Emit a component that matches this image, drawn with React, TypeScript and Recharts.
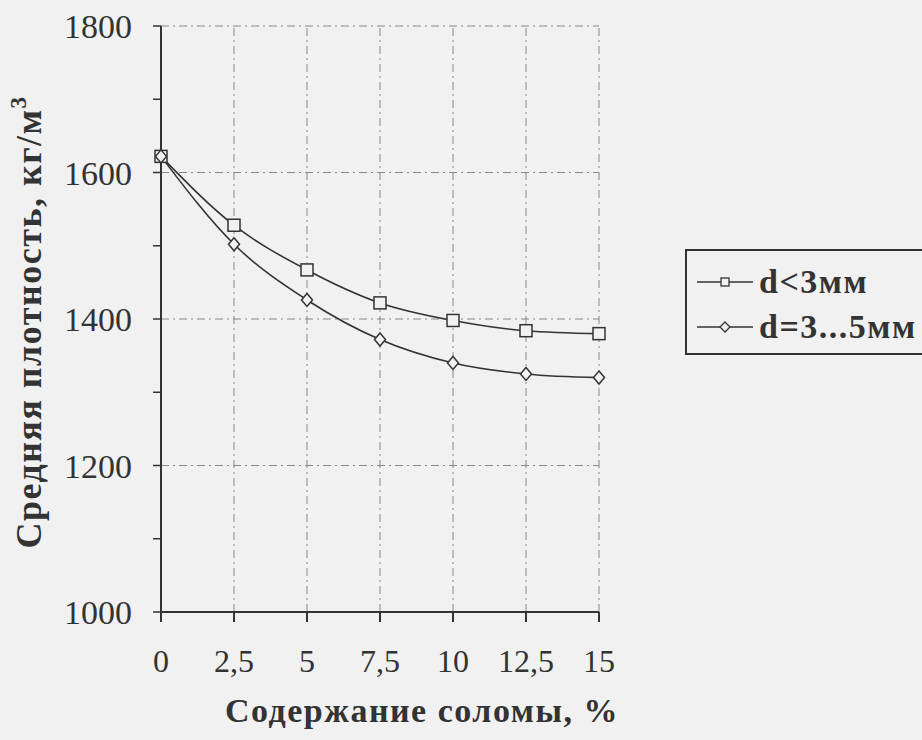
import { LineChart, Line, XAxis, YAxis, ReferenceLine, Legend, Label } from "recharts";

const straw = [0, 2.5, 5, 7.5, 10, 12.5, 15];
const fine = [1622, 1528, 1467, 1422, 1398, 1384, 1380];
const medium = [1622, 1502, 1426, 1372, 1340, 1325, 1320];
const yTicks = [1000, 1100, 1200, 1300, 1400, 1500, 1600, 1700, 1800];
const yGrid = [1200, 1400, 1600, 1800];
const xGrid = [2.5, 5, 7.5, 10, 12.5, 15];
const names = ["d<3мм", "d=3...5мм"];

const data = straw.map((s, i) => ({ s, fine: fine[i], medium: medium[i] }));

const INK = "#333";
const BG = "#f1f1f1";
const FONT = "'Liberation Serif', 'Times New Roman', serif";

const Square = (p: any) => (
  <rect x={p.cx - 6} y={p.cy - 6} width={12} height={12} fill={BG} stroke={INK} strokeWidth={1.5} />
);
const Diamond = (p: any) => (
  <polygon
    points={`${p.cx},${p.cy - 6.5} ${p.cx + 5.5},${p.cy} ${p.cx},${p.cy + 6.5} ${p.cx - 5.5},${p.cy}`}
    fill={BG}
    stroke={INK}
    strokeWidth={1.5}
  />
);

function LegendBox() {
  return (
    <div style={{ border: `2px solid ${INK}`, background: BG, height: 106, boxSizing: "border-box", paddingTop: 8 }}>
      {names.map((n, i) => (
        <div key={n} style={{ display: "flex", alignItems: "center", height: 45 }}>
          <svg width={72} height={20} style={{ marginLeft: 8 }}>
            <line x1={2} y1={10} x2={58} y2={10} stroke={INK} strokeWidth={1.5} />
            {i === 0 ? (
              <rect x={26} y={6} width={8} height={8} fill={BG} stroke={INK} strokeWidth={1.3} />
            ) : (
              <polygon points="30,5 35,10 30,15 25,10" fill={BG} stroke={INK} strokeWidth={1.3} />
            )}
          </svg>
          <span
            style={{
              fontFamily: FONT,
              fontWeight: "bold",
              fontSize: 34,
              letterSpacing: 1.5,
              color: INK,
              marginLeft: -8,
            }}
          >
            {n}
          </span>
        </div>
      ))}
    </div>
  );
}

export default function App() {
  return (
    <div style={{ position: "absolute", left: 0, top: 0, width: 922, height: 740, background: BG, overflow: "hidden" }}>
      <LineChart width={922} height={740} data={data} margin={{ top: 26, right: 323, bottom: 0, left: 0 }}>
        {yGrid.map((v) => (
          <ReferenceLine key={"y" + v} y={v} stroke="#888" strokeDasharray="8 4 2 4" />
        ))}
        {xGrid.map((v) => (
          <ReferenceLine key={"x" + v} x={v} stroke="#888" strokeDasharray="8 4 2 4" />
        ))}
        <XAxis
          dataKey="s"
          type="number"
          domain={[0, 15]}
          ticks={straw}
          tickFormatter={(v: number) => String(v).replace(".", ",")}
          height={128}
          tickSize={10}
          tickMargin={27}
          axisLine={{ stroke: INK, strokeWidth: 2 }}
          tickLine={{ stroke: INK, strokeWidth: 2 }}
          tick={{ fill: INK, fontSize: 32, fontFamily: FONT }}
        >
          <Label
            content={() => (
              <text
                x={422}
                y={722}
                textAnchor="middle"
                fill={INK}
                fontFamily={FONT}
                fontWeight="bold"
                fontSize={34}
                letterSpacing={1.5}
              >
                Содержание соломы, %
              </text>
            )}
          />
        </XAxis>
        <YAxis
          type="number"
          domain={[1000, 1800]}
          ticks={yTicks}
          interval={0}
          width={161}
          tickFormatter={(v: number) => (v % 200 === 0 ? String(v) : "")}
          tickSize={8}
          tickMargin={21}
          axisLine={{ stroke: INK, strokeWidth: 2 }}
          tickLine={{ stroke: INK, strokeWidth: 1.5 }}
          tick={{ fill: INK, fontSize: 34, fontFamily: FONT }}
        >
          <Label
            content={() => (
              <text
                x={41}
                y={322}
                transform="rotate(-90 41 322)"
                textAnchor="middle"
                fill={INK}
                fontFamily={FONT}
                fontWeight="bold"
                fontSize={36}
                letterSpacing={1.5}
              >
                Средняя плотность, кг/м
                <tspan dy={-15} fontSize={23}>3</tspan>
              </text>
            )}
          />
        </YAxis>
        <Legend
          layout="horizontal"
          verticalAlign="middle"
          align="center"
          content={() => <LegendBox />}
          wrapperStyle={{ position: "absolute", left: 685, top: 249, width: 260, height: 106 }}
        />
        <Line
          dataKey="fine"
          name={names[0]}
          type="monotone"
          stroke={INK}
          strokeWidth={1.6}
          dot={<Square />}
          isAnimationActive={false}
        />
        <Line
          dataKey="medium"
          name={names[1]}
          type="monotone"
          stroke={INK}
          strokeWidth={1.6}
          dot={<Diamond />}
          isAnimationActive={false}
        />
      </LineChart>
    </div>
  );
}
